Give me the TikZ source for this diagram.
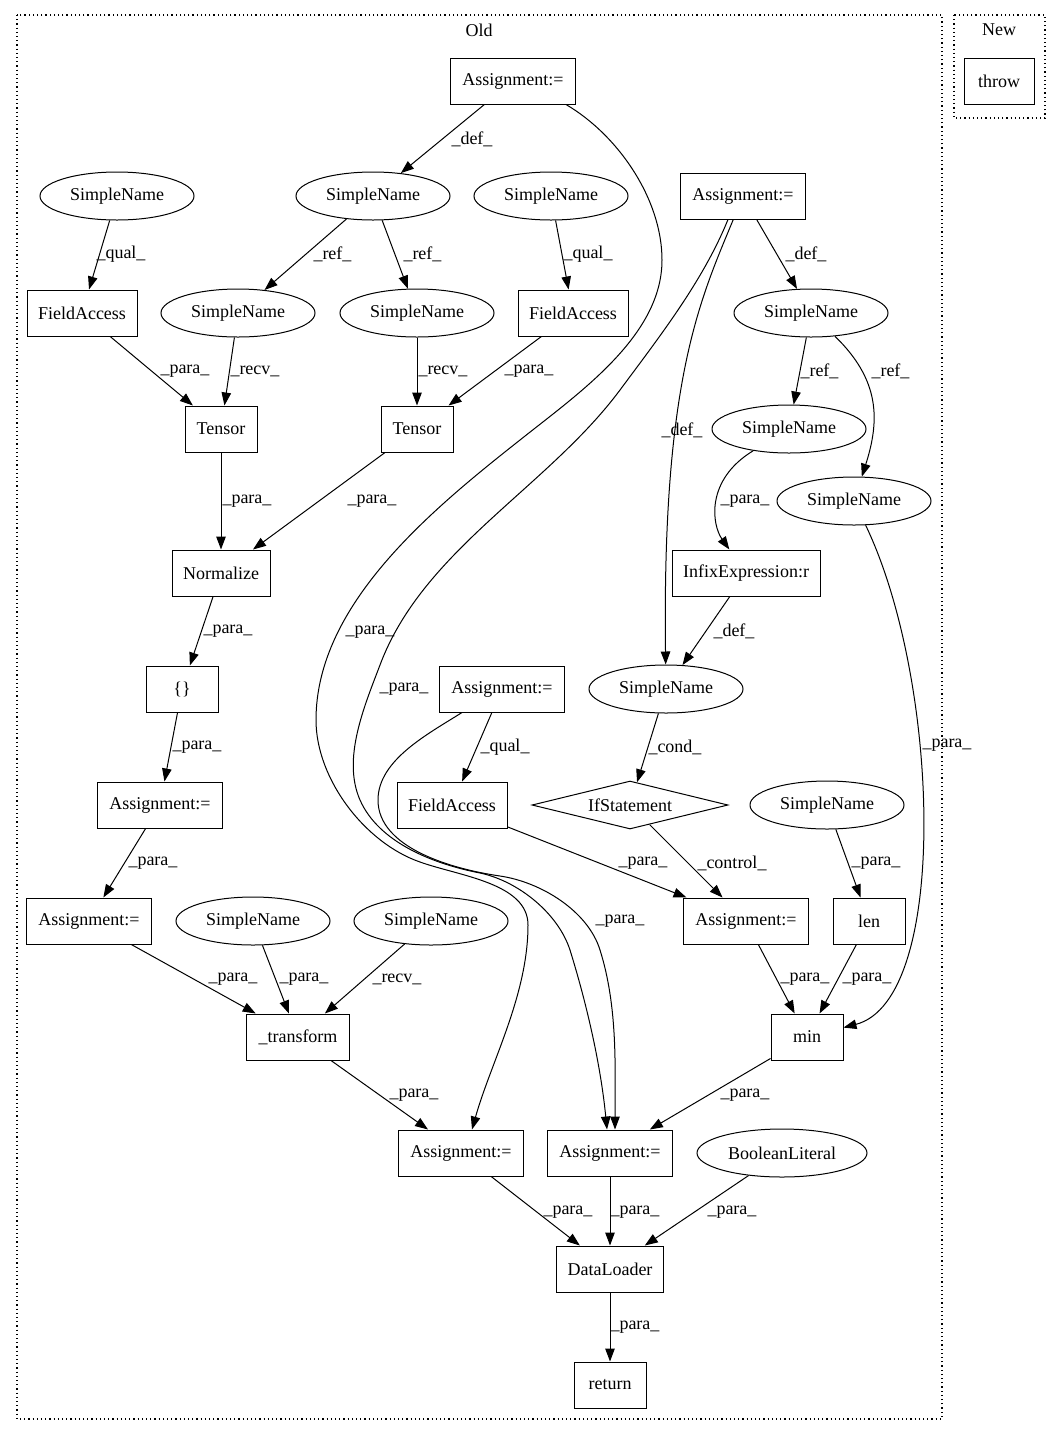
\documentclass[tikz,border=0pt]{standalone}
\usepackage{fontspec}
\setmainfont{Liberation Serif}
\usetikzlibrary{arrows.meta,shapes.geometric}
\begin{document}
\begin{tikzpicture}[x=1pt,y=-1pt,
  font=\fontsize{18}{21}\selectfont,
  box/.style={draw, line width=1pt, rectangle, minimum height=46pt, minimum width=72pt, inner sep=0pt},
  ell/.style={draw, line width=1pt, ellipse, minimum width=154pt, minimum height=48pt, inner sep=0pt},
  dia/.style={draw, line width=1pt, diamond, aspect=4, minimum width=196pt, minimum height=48pt, inner sep=0pt},
  edg/.style={draw, line width=1pt, -{Triangle[length=13pt,width=9.5pt]}},
  lbl/.style={anchor=west, inner sep=0pt},
  clus/.style={draw, line width=1.1pt, dash pattern=on 1.2pt off 3pt}]
\useasboundingbox (0,0) rectangle (1063,1436);
% clusters
\draw[clus] (17,15) rectangle (942,1419);
\draw[clus] (954,15) rectangle (1045,118);
\node (OLDL) at (479,30) {Old};
\node (NEWL) at (999,30) {New};
% nodes
\node[box, minimum width=125pt] (A1) at (513,81) {Assignment:=};
\node[ell] (SNa) at (117,196) {SimpleName};
\node[ell] (SN1) at (373,196) {SimpleName};
\node[ell] (SNb) at (551,196) {SimpleName};
\node[box, minimum width=125pt] (A2) at (743,196) {Assignment:=};
\node[box, minimum width=110pt] (FA1) at (82,313) {FieldAccess};
\node[ell] (SN2) at (238,313) {SimpleName};
\node[ell] (SN3) at (417,313) {SimpleName};
\node[box, minimum width=110pt] (FA2) at (573,313) {FieldAccess};
\node[ell] (SN4) at (811,313) {SimpleName};
\node[box] (T1) at (221,429) {Tensor};
\node[box] (T2) at (417,429) {Tensor};
\node[ell] (SN5) at (789,429) {SimpleName};
\node[ell] (SN6) at (854,501) {SimpleName};
\node[box, minimum width=98pt] (NORM) at (221,573) {Normalize};
\node[box, minimum width=148pt] (INFIX) at (746,573) {InfixExpression:r};
\node[box] (BR) at (182,689) {\{\}};
\node[box, minimum width=125pt] (A3) at (502,689) {Assignment:=};
\node[ell] (SN7) at (666,689) {SimpleName};
\node[box, minimum width=125pt] (A4) at (160,805) {Assignment:=};
\node[box, minimum width=110pt] (FA3) at (452,805) {FieldAccess};
\node[dia] (IF) at (630,805) {IfStatement};
\node[ell] (SN8) at (827,805) {SimpleName};
\node[box, minimum width=125pt] (A5) at (89,921) {Assignment:=};
\node[ell] (SN9) at (253,921) {SimpleName};
\node[ell] (SN10) at (431,921) {SimpleName};
\node[box, minimum width=125pt] (A6) at (746,921) {Assignment:=};
\node[box] (LEN) at (869,921) {len};
\node[box, minimum width=103pt] (TR) at (298,1037) {\_transform};
\node[box] (MIN) at (807,1037) {min};
\node[box, minimum width=125pt] (A7) at (461,1153) {Assignment:=};
\node[box, minimum width=125pt] (A8) at (610,1153) {Assignment:=};
\node[ell, minimum width=170pt] (BL) at (782,1153) {BooleanLiteral};
\node[box, minimum width=107pt] (DL) at (610,1269) {DataLoader};
\node[box] (RET) at (610,1385) {return};
\node[box, minimum width=70pt] (THROW) at (999,81) {throw};
% edges
\draw[edg] (A1) -- (SN1) node[lbl, at={(451,139)}] {\_def\_};
\draw[edg] (SNa) -- (FA1) node[lbl, at={(96,254)}] {\_qual\_};
\draw[edg] (SNb) -- (FA2) node[lbl, at={(563,254)}] {\_qual\_};
\draw[edg] (SN1) -- (SN2) node[lbl, at={(313,254)}] {\_ref\_};
\draw[edg] (SN1) -- (SN3) node[lbl, at={(403,254)}] {\_ref\_};
\draw[edg] (A2) -- (SN4) node[lbl, at={(785,254)}] {\_def\_};
\draw[edg] (FA1) -- (T1) node[lbl, at={(160,371)}] {\_para\_};
\draw[edg] (SN2) -- (T1) node[lbl, at={(230,371)}] {\_recv\_};
\draw[edg] (SN3) -- (T2) node[lbl, at={(418,371)}] {\_recv\_};
\draw[edg] (FA2) -- (T2) node[lbl, at={(504,371)}] {\_para\_};
\draw[edg] (SN4) -- (SN5) node[lbl, at={(800,371)}] {\_ref\_};
\draw[edg] (SN4) .. controls (880,380) and (880,420) .. (SN6) node[lbl, at={(871,371)}] {\_ref\_};
\draw[edg] (T1) -- (NORM) node[lbl, at={(222,501)}] {\_para\_};
\draw[edg] (T2) -- (NORM) node[lbl, at={(347,501)}] {\_para\_};
\draw[edg] (SN5) .. controls (705,480) and (712,525) .. (INFIX) node[lbl, at={(720,501)}] {\_para\_};
\draw[edg] (A2) .. controls (700,300) and (662,380) .. (SN7) node[lbl, at={(661,430)}] {\_def\_};
\draw[edg] (INFIX) -- (SN7) node[lbl, at={(713,631)}] {\_def\_};
\draw[edg] (NORM) -- (BR) node[lbl, at={(203,631)}] {\_para\_};
\draw[edg] (BR) -- (A4) node[lbl, at={(172,747)}] {\_para\_};
\draw[edg] (A3) -- (FA3) node[lbl, at={(480,747)}] {\_qual\_};
\draw[edg] (SN7) -- (IF) node[lbl, at={(648,747)}] {\_cond\_};
\draw[edg] (SN6) .. controls (940,680) and (950,1000) .. (MIN) node[lbl, at={(922,745)}] {\_para\_};
\draw[edg] (A4) -- (A5) node[lbl, at={(128,863)}] {\_para\_};
\draw[edg] (FA3) -- (A6) node[lbl, at={(618,863)}] {\_para\_};
\draw[edg] (IF) -- (A6) node[lbl, at={(697,863)}] {\_control\_};
\draw[edg] (SN8) -- (LEN) node[lbl, at={(851,863)}] {\_para\_};
\draw[edg] (A5) -- (TR) node[lbl, at={(208,979)}] {\_para\_};
\draw[edg] (SN9) -- (TR) node[lbl, at={(279,979)}] {\_para\_};
\draw[edg] (SN10) -- (TR) node[lbl, at={(372,979)}] {\_recv\_};
\draw[edg] (A6) -- (MIN) node[lbl, at={(780,979)}] {\_para\_};
\draw[edg] (LEN) -- (MIN) node[lbl, at={(842,979)}] {\_para\_};
\draw[edg] (TR) -- (A7) node[lbl, at={(389,1095)}] {\_para\_};
\draw[edg] (MIN) -- (A8) node[lbl, at={(720,1095)}] {\_para\_};
\draw[edg] (A7) -- (DL) node[lbl, at={(543,1212)}] {\_para\_};
\draw[edg] (A8) -- (DL) node[lbl, at={(610,1212)}] {\_para\_};
\draw[edg] (BL) -- (DL) node[lbl, at={(707,1212)}] {\_para\_};
\draw[edg] (DL) -- (RET) node[lbl, at={(610,1327)}] {\_para\_};
% long curves
\draw[edg] ([xshift=-10pt]A1.south east) .. controls (618,135) and (662,199) .. (662,260)
  .. controls (662,336) and (579,393) .. (520,440)
  .. controls (430,511) and (316,605) .. (316,720)
  .. controls (316,779) and (365,843) .. (420,862)
  .. controls (459,876) and (528,883) .. (528,925)
  .. controls (528,995) and (491,1062) .. ([xshift=11pt]A7.north)
  node[lbl, at={(345,632)}] {\_para\_};
\draw[edg] ([xshift=-15pt]A2.south) .. controls (703,281) and (660,336) .. (620,390)
  .. controls (547,488) and (423,550) .. (380,665)
  .. controls (364,707) and (342,759) .. (360,800)
  .. controls (379,843) and (434,864) .. (480,873)
  .. controls (518,881) and (558,913) .. (570,950)
  .. controls (588,1008) and (601,1068) .. ([xshift=-3pt]A8.north)
  node[lbl, at={(379,689)}] {\_para\_};
\draw[edg] ([xshift=-40pt]A3.south) .. controls (428,734) and (378,760) .. (378,800)
  .. controls (378,848) and (452,869) .. (500,876)
  .. controls (541,882) and (588,911) .. (600,950)
  .. controls (618,1007) and (615,1069) .. ([xshift=5pt]A8.north)
  node[lbl, at={(595,921)}] {\_para\_};
\end{tikzpicture}
\end{document}
